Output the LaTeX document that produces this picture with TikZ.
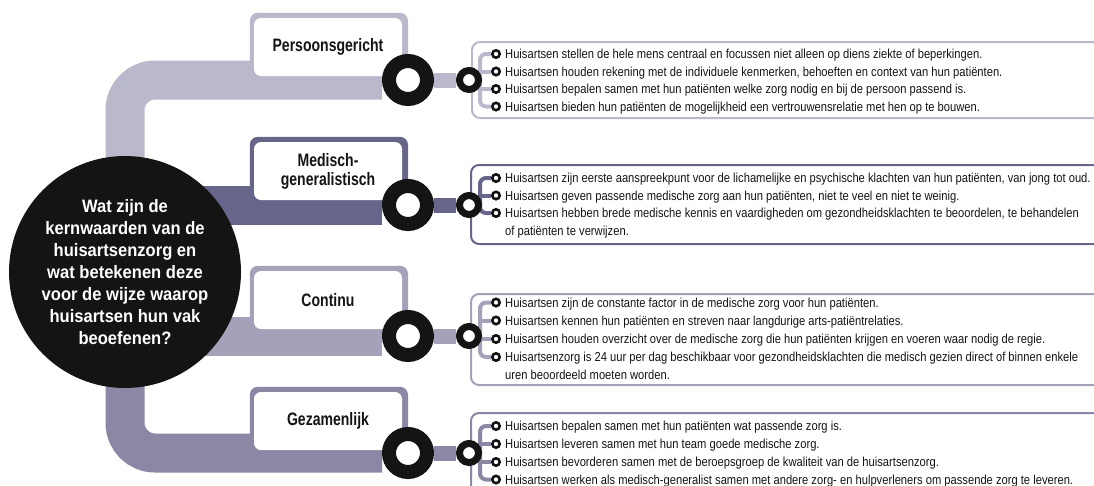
\documentclass[tikz,border=0pt]{standalone}
\usepackage{fontspec}
\setmainfont{Liberation Sans}
\newfontfamily\itemfont[FakeStretch=0.86]{Liberation Sans}
\newfontfamily\headfont[FakeStretch=0.78]{Liberation Sans}
\newfontfamily\askfont[FakeStretch=0.92]{Liberation Sans}
\usetikzlibrary{positioning,calc,backgrounds}

\definecolor{ink}{HTML}{141414}
\definecolor{persc}{HTML}{BAB9CC}
\definecolor{medc}{HTML}{67668A}
\definecolor{contc}{HTML}{A3A2B8}
\definecolor{gezc}{HTML}{8A88A4}

\tikzset{
  track/.style={line width=39pt, rounded corners=30pt},
  link/.style={line width=15pt},
  brace/.style={line width=4pt, rounded corners=6pt},
  itembox/.style={line width=2pt, rounded corners=8pt},
  frame/.style={rounded corners=8pt},
  bigring/.style={circle, draw=ink, fill=white, line width=14pt, minimum size=38pt, inner sep=0pt},
  smallring/.style={circle, draw=ink, fill=white, line width=7pt, minimum size=19pt, inner sep=0pt},
  bullet/.style={circle, draw=ink, fill=white, line width=2.6pt, minimum size=7.4pt, inner sep=0pt},
  item/.style={anchor=base west, inner sep=0pt, align=left, text=ink,
    font=\itemfont\fontsize{13}{17.5}\selectfont},
  head/.style={fill=white, rounded corners=7pt, minimum width=148pt, minimum height=58pt,
    inner sep=0pt, align=center, text=ink, font=\headfont\bfseries\fontsize{18}{19}\selectfont},
}

\begin{document}
\begin{tikzpicture}[x=1pt, y=-1pt]
  \clip (0,0) rectangle (1094,485);

  % central question
  \node[circle, fill=ink, minimum size=232pt, inner sep=0pt, text=white, align=center,
    font=\askfont\bfseries\fontsize{18}{22}\selectfont] (q) at (125,272)
    {Wat zijn de\\kernwaarden van de\\huisartsenzorg en\\wat betekenen deze\\voor de wijze waarop\\huisartsen hun vak\\beoefenen?};

  % headers
  \node[head] (hP) at (328,47) {Persoonsgericht};
  \node[head] (hM) at (328,171) {Medisch-\\generalistisch};
  \node[head] (hC) at (328,300) {Continu};
  \node[head] (hG) at (328,421) {Gezamenlijk};

  % stations
  \node[bigring] (rP) at (408,80) {};
  \node[bigring] (rM) at (408,205) {};
  \node[bigring] (rC) at (408,336) {};
  \node[bigring] (rG) at (408,453) {};
  \node[smallring] (sP) at (469,80) {};
  \node[smallring] (sM) at (469,205) {};
  \node[smallring] (sC) at (469,336) {};
  \node[smallring] (sG) at (469,453) {};
  \coordinate (jP) at (480,80);
  \coordinate (jM) at (480,205);
  \coordinate (jC) at (480,336);
  \coordinate (jG) at (480,453);

  % Persoonsgericht
  \node[bullet] (bP1) at (496,54) {};
  \node[bullet] (bP2) at (496,71.5) {};
  \node[bullet] (bP3) at (496,89) {};
  \node[bullet] (bP4) at (496,106.5) {};
  \node[item] (tP1) at (505,58.5) {Huisartsen stellen de hele mens centraal en focussen niet alleen op diens ziekte of beperkingen.};
  \node[item] (tP2) at (505,76) {Huisartsen houden rekening met de individuele kenmerken, behoeften en context van hun patiënten.};
  \node[item] (tP3) at (505,93.5) {Huisartsen bepalen samen met hun patiënten welke zorg nodig en bij de persoon passend is.};
  \node[item] (tP4) at (505,111) {Huisartsen bieden hun patiënten de mogelijkheid een vertrouwensrelatie met hen op te bouwen.};

  % Medisch-generalistisch
  \node[bullet] (bM1) at (496,178) {};
  \node[bullet] (bM2) at (496,195.5) {};
  \node[bullet] (bM3) at (496,213) {};
  \node[item] (tM1) at (505,182.5) {Huisartsen zijn eerste aanspreekpunt voor de lichamelijke en psychische klachten van hun patiënten, van jong tot oud.};
  \node[item] (tM2) at (505,200) {Huisartsen geven passende medische zorg aan hun patiënten, niet te veel en niet te weinig.};
  \node[item] (tM3) at (505,235) {Huisartsen hebben brede medische kennis en vaardigheden om gezondheidsklachten te beoordelen, te behandelen\\of patiënten te verwijzen.};

  % Continu
  \node[bullet] (bC1) at (496,302.5) {};
  \node[bullet] (bC2) at (496,320.5) {};
  \node[bullet] (bC3) at (496,339) {};
  \node[bullet] (bC4) at (496,357) {};
  \node[item] (tC1) at (505,307) {Huisartsen zijn de constante factor in de medische zorg voor hun patiënten.};
  \node[item] (tC2) at (505,325) {Huisartsen kennen hun patiënten en streven naar langdurige arts-patiëntrelaties.};
  \node[item] (tC3) at (505,343.5) {Huisartsen houden overzicht over de medische zorg die hun patiënten krijgen en voeren waar nodig de regie.};
  \node[item] (tC4) at (505,379) {Huisartsenzorg is 24 uur per dag beschikbaar voor gezondheidsklachten die medisch gezien direct of binnen enkele\\uren beoordeeld moeten worden.};

  % Gezamenlijk
  \node[bullet] (bG1) at (496,426) {};
  \node[bullet] (bG2) at (496,444) {};
  \node[bullet] (bG3) at (496,462) {};
  \node[bullet] (bG4) at (496,479.5) {};
  \node[item] (tG1) at (505,430.5) {Huisartsen bepalen samen met hun patiënten wat passende zorg is.};
  \node[item] (tG2) at (505,448.5) {Huisartsen leveren samen met hun team goede medische zorg.};
  \node[item] (tG3) at (505,466.5) {Huisartsen bevorderen samen met de beroepsgroep de kwaliteit van de huisartsenzorg.};
  \node[item] (tG4) at (505,484) {Huisartsen werken als medisch-generalist samen met andere zorg- en hulpverleners om passende zorg te leveren.};

  \begin{scope}[on background layer]
    \clip (0,0) rectangle (1094,485);
    % tracks
    \draw[track, persc] (q.center) |- (rP);
    \draw[track, medc] (q.center |- rM) -- (rM);
    \draw[track, contc] (q.center |- rC) -- (rC);
    \draw[track, gezc] (q.center) |- (rG);
    % header frames
    \fill[frame, persc] ($(hP.north west)+(-4,-5)$) rectangle (rP.center);
    \fill[frame, medc] ($(hM.north west)+(-4,-5)$) rectangle (rM.center);
    \fill[frame, contc] ($(hC.north west)+(-4,-5)$) rectangle (rC.center);
    \fill[frame, gezc] ($(hG.north west)+(-4,-5)$) rectangle (rG.center);
    % item boxes
    \draw[itembox, persc] (472,42) rectangle (1110,118);
    \draw[itembox, medc] (471,165) rectangle (1110,244);
    \draw[itembox, contc] (471,294) rectangle (1110,385);
    \draw[itembox, gezc] (471,413) rectangle (1110,500);
    % links
    \draw[link, persc] (rP) -- (sP);
    \draw[link, medc] (rM) -- (sM);
    \draw[link, contc] (rC) -- (sC);
    \draw[link, gezc] (rG) -- (sG);
    % braces
    \draw[brace, persc] (bP1) -| (jP) |- (bP4);
    \draw[brace, persc] (jP |- bP2) -- (bP2);
    \draw[brace, persc] (jP |- bP3) -- (bP3);
    \draw[brace, medc] (bM1) -| (jM) |- (bM3);
    \draw[brace, medc] (jM |- bM2) -- (bM2);
    \draw[brace, contc] (bC1) -| (jC) |- (bC4);
    \draw[brace, contc] (jC |- bC2) -- (bC2);
    \draw[brace, contc] (jC |- bC3) -- (bC3);
    \draw[brace, gezc] (bG1) -| (jG) |- (bG4);
    \draw[brace, gezc] (jG |- bG2) -- (bG2);
    \draw[brace, gezc] (jG |- bG3) -- (bG3);
  \end{scope}
\end{tikzpicture}
\end{document}
